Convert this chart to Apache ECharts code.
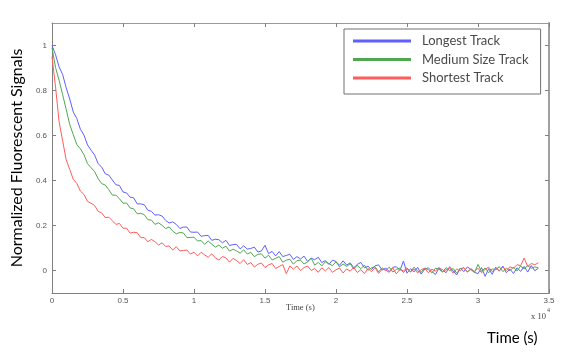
<!DOCTYPE html>
<html>
<head>
<meta charset="utf-8">
<script src="https://cdn.jsdelivr.net/npm/echarts@6/dist/echarts.min.js"></script>
<style>
html,body{margin:0;padding:0;background:#fff;}
#chart{width:575px;height:355px;}
</style>
</head>
<body>
<div id="chart"></div>
<script>
// sampling step of the recorded traces, in seconds
const timeStep = 250;

const seriesNames = ['Longest Track', 'Medium Size Track', 'Shortest Track'];

const longestTrack = [
  1.000, 0.959, 0.905, 0.871, 0.812, 0.762, 0.704, 0.675, 0.628, 0.602,
  0.558, 0.535, 0.513, 0.475, 0.459, 0.430, 0.424, 0.402, 0.381, 0.378,
  0.349, 0.345, 0.326, 0.323, 0.296, 0.296, 0.292, 0.268, 0.263, 0.246,
  0.248, 0.242, 0.223, 0.211, 0.216, 0.205, 0.187, 0.193, 0.193, 0.171,
  0.170, 0.171, 0.152, 0.155, 0.156, 0.134, 0.139, 0.137, 0.123, 0.134,
  0.111, 0.115, 0.116, 0.096, 0.110, 0.095, 0.098, 0.104, 0.082, 0.087,
  0.112, 0.075, 0.085, 0.065, 0.084, 0.062, 0.067, 0.072, 0.049, 0.062,
  0.051, 0.064, 0.040, 0.055, 0.048, 0.059, 0.035, 0.044, 0.027, 0.046,
  0.040, 0.023, 0.043, 0.024, 0.034, 0.012, 0.027, 0.036, 0.012, 0.019,
  0.004, 0.021, 0.025, 0.002, 0.011, -0.005, 0.014, 0.017, 0.000, 0.042,
  -0.012, 0.008, -0.006, 0.014, -0.016, 0.006, 0.012, -0.004, -0.018, 0.010,
  0.004, -0.010, 0.017, -0.002, -0.020, 0.011, -0.005, 0.016, 0.005, -0.008,
  -0.014, 0.013, -0.026, 0.008, -0.017, 0.015, -0.003, 0.020, -0.010, 0.006,
  -0.013, 0.012, -0.004, 0.018, -0.007, 0.022, -0.001, 0.010
];

const mediumTrack = [
  0.990, 0.902, 0.845, 0.781, 0.716, 0.648, 0.604, 0.559, 0.541, 0.515,
  0.475, 0.457, 0.440, 0.408, 0.386, 0.380, 0.359, 0.335, 0.335, 0.319,
  0.299, 0.300, 0.278, 0.274, 0.252, 0.254, 0.248, 0.226, 0.224, 0.205,
  0.212, 0.201, 0.186, 0.194, 0.175, 0.163, 0.169, 0.167, 0.146, 0.147,
  0.148, 0.131, 0.133, 0.116, 0.131, 0.117, 0.104, 0.113, 0.099, 0.108,
  0.086, 0.095, 0.087, 0.077, 0.092, 0.073, 0.081, 0.061, 0.072, 0.074,
  0.055, 0.068, 0.047, 0.054, 0.062, 0.037, 0.046, 0.050, 0.028, 0.044,
  0.046, 0.029, 0.038, 0.055, 0.024, 0.036, 0.020, 0.039, 0.031, 0.021,
  0.039, 0.016, 0.029, 0.018, 0.030, 0.007, 0.023, 0.008, 0.024, 0.001,
  0.012, 0.017, -0.006, 0.012, 0.000, 0.015, -0.007, 0.005, 0.011, -0.009,
  0.008, -0.006, 0.015, -0.003, -0.008, 0.011, 0.004, -0.011, 0.010, 0.006,
  -0.007, 0.013, -0.001, 0.009, -0.012, 0.008, 0.012, -0.005, 0.005, -0.009,
  0.027, -0.004, 0.011, -0.010, 0.007, 0.004, 0.017, -0.005, 0.010, -0.001,
  0.015, -0.002, 0.020, 0.007, 0.022, 0.010, 0.016, 0.012
];

const shortestTrack = [
  0.950, 0.815, 0.661, 0.576, 0.492, 0.449, 0.405, 0.387, 0.353, 0.338,
  0.307, 0.299, 0.289, 0.263, 0.256, 0.235, 0.237, 0.221, 0.205, 0.209,
  0.188, 0.188, 0.166, 0.170, 0.168, 0.146, 0.146, 0.128, 0.138, 0.128,
  0.113, 0.123, 0.107, 0.109, 0.091, 0.106, 0.087, 0.089, 0.091, 0.073,
  0.081, 0.065, 0.081, 0.069, 0.059, 0.074, 0.056, 0.047, 0.062, 0.056,
  0.037, 0.054, 0.044, 0.031, 0.048, 0.027, 0.035, 0.015, 0.028, 0.033,
  0.013, 0.025, 0.031, 0.009, 0.018, 0.026, -0.014, 0.020, 0.006, 0.020,
  0.000, 0.013, 0.020, 0.000, 0.009, -0.008, 0.012, -0.002, 0.013, -0.008,
  0.003, 0.011, -0.011, 0.007, -0.003, 0.014, -0.009, 0.004, -0.014, 0.009,
  -0.005, 0.013, -0.013, 0.006, 0.002, -0.008, 0.011, -0.015, 0.005, -0.002,
  0.012, -0.007, 0.007, -0.011, 0.004, 0.010, -0.010, 0.006, -0.003, 0.014,
  -0.006, 0.003, 0.011, -0.012, 0.007, -0.002, 0.013, -0.008, 0.008, -0.004,
  0.010, -0.010, 0.005, 0.015, -0.005, 0.009, -0.001, 0.016, 0.001, 0.016,
  0.010, 0.026, 0.021, 0.055, 0.018, 0.031, 0.026, 0.034
];

const xTickValues = [0, 5000, 10000, 15000, 20000, 25000, 30000, 35000];
const xTickLabels = ['0', '0.5', '1', '1.5', '2', '2.5', '3', '3.5'];
const yTickValues = [0, 0.2, 0.4, 0.6, 0.8, 1];
const yTickLabels = ['0', '0.2', '0.4', '0.6', '0.8', '1'];

const colors = ['#5f5fff', '#4fa84f', '#ff5c5c'];
const seriesValues = [longestTrack, mediumTrack, shortestTrack];

function toPairs(values) {
  return values.map((v, i) => [i * timeStep, v]);
}

const chart = echarts.init(document.getElementById('chart'), null, {renderer: 'canvas'});

const tickLabelStyle = {fontSize: 8, color: '#555', fontFamily: 'Liberation Sans'};

chart.setOption({
  animation: false,
  backgroundColor: '#fff',
  grid: {left: 52, top: 23, right: 26, bottom: 62, containLabel: false},
  legend: {
    data: seriesNames,
    orient: 'vertical',
    left: 344,
    top: 29,
    padding: [4, 12, 8, 9],
    itemGap: 2.5,
    itemWidth: 58,
    itemHeight: 3,
    icon: 'rect',
    borderColor: '#707070',
    borderWidth: 1,
    backgroundColor: '#fff',
    textStyle: {fontSize: 13, fontFamily: 'Lato', color: '#4a4a4a', lineHeight: 16, padding: [0, 0, 0, 6]}
  },
  xAxis: [
    {
      type: 'value', min: 0, max: 35000, position: 'bottom',
      axisLine: {show: true, onZero: false, lineStyle: {color: '#808080', width: 1}},
      axisTick: {show: true, inside: true, length: 4, customValues: xTickValues, lineStyle: {color: '#808080'}},
      axisLabel: Object.assign({
        customValues: xTickValues, margin: 4,
        formatter: v => xTickLabels[xTickValues.indexOf(v)]
      }, tickLabelStyle),
      splitLine: {show: false}
    },
    {
      type: 'value', min: 0, max: 35000, position: 'top',
      axisLine: {show: true, onZero: false, lineStyle: {color: '#999', width: 1}},
      axisTick: {show: true, inside: true, length: 4, customValues: xTickValues, lineStyle: {color: '#808080'}},
      axisLabel: {show: false},
      splitLine: {show: false}
    }
  ],
  yAxis: [
    {
      type: 'value', min: -0.1, max: 1.1, position: 'left',
      name: 'Normalized Fluorescent Signals', nameLocation: 'middle', nameGap: 26,
      nameTextStyle: {fontFamily: 'Lato', fontSize: 16, color: '#000'},
      axisLine: {show: true, onZero: false, lineStyle: {color: '#808080', width: 1}},
      axisTick: {show: true, inside: true, length: 4, customValues: yTickValues, lineStyle: {color: '#808080'}},
      axisLabel: Object.assign({
        customValues: yTickValues, margin: 5,
        formatter: v => yTickLabels[yTickValues.indexOf(v)]
      }, tickLabelStyle),
      splitLine: {show: false}
    },
    {
      type: 'value', min: -0.1, max: 1.1, position: 'right',
      axisLine: {show: true, onZero: false, lineStyle: {color: '#a0a0a0', width: 2}},
      axisTick: {show: true, inside: true, length: 4, customValues: yTickValues, lineStyle: {color: '#808080'}},
      axisLabel: {show: false},
      splitLine: {show: false}
    }
  ],
  graphic: [
    {
      type: 'text', left: 286, top: 303,
      style: {text: 'Time (s)', fontFamily: 'Liberation Serif', fontSize: 8.5, fill: '#444'}
    },
    {
      type: 'text', left: 531, top: 307,
      style: {
        text: '{a|x 10}{b|4}',
        rich: {
          a: {fontFamily: 'Liberation Serif', fontSize: 8.5, fill: '#444', padding: [5, 0, 0, 0]},
          b: {fontFamily: 'Liberation Serif', fontSize: 6, fill: '#444', verticalAlign: 'top', padding: [0, 0, 0, 1]}
        }
      }
    },
    {
      type: 'text', left: 487, top: 331,
      style: {text: 'Time (s)', fontFamily: 'Lato', fontSize: 15, fill: '#000'}
    }
  ],
  series: seriesNames.map((name, k) => ({
    name: name,
    type: 'line',
    xAxisIndex: 0,
    yAxisIndex: 0,
    data: toPairs(seriesValues[k]),
    showSymbol: false,
    symbol: 'none',
    color: colors[k],
    lineStyle: {width: 1, color: colors[k]},
    sampling: null
  }))
});
</script>
</body>
</html>
